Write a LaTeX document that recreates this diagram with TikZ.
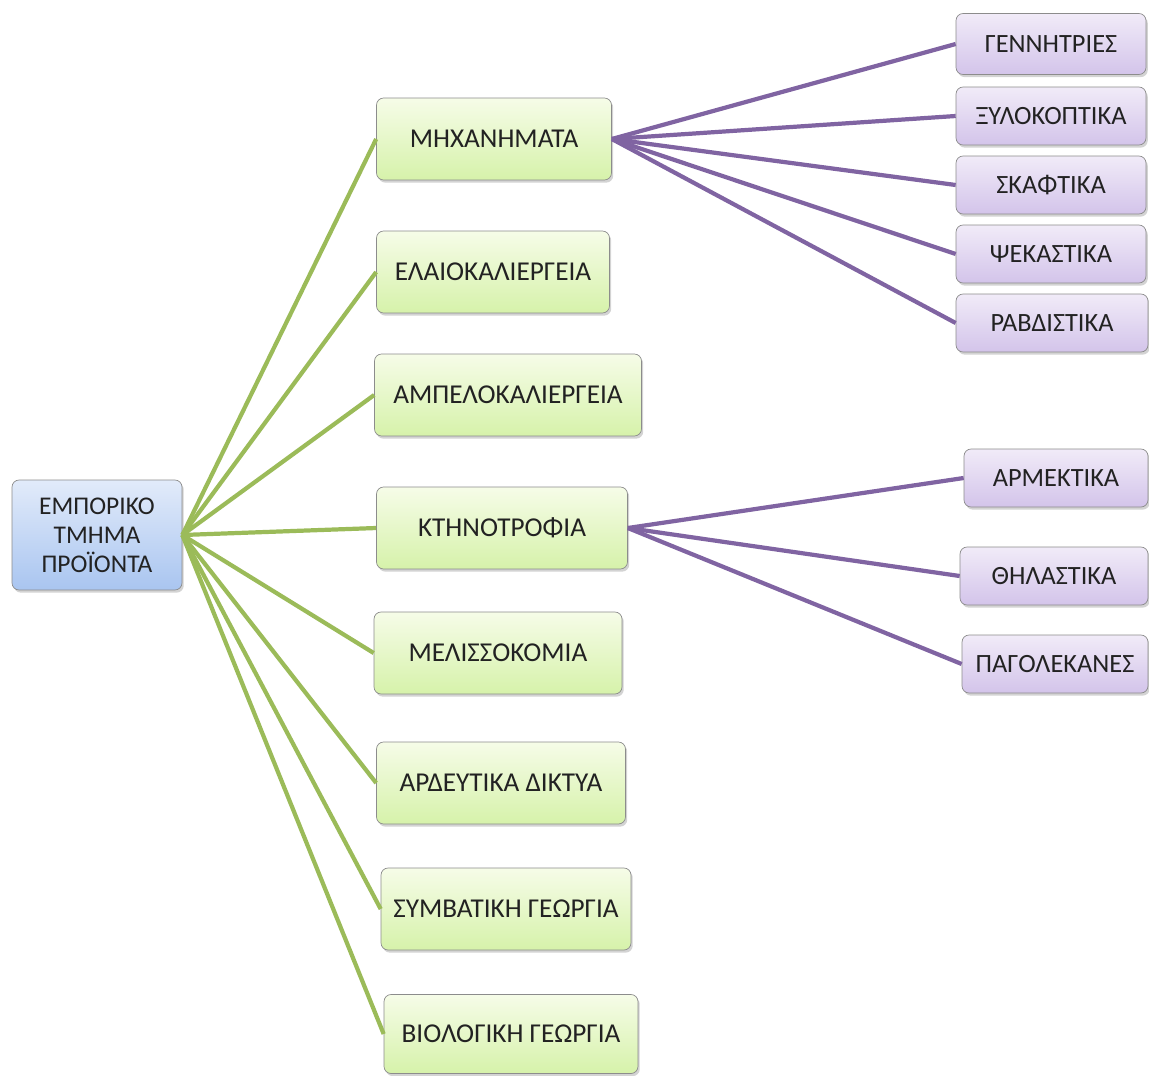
\documentclass[tikz,border=0pt]{standalone}
\usepackage{fontspec}
\setmainfont{Carlito}
\usetikzlibrary{shadows}
\definecolor{cRootTop}{HTML}{E2EBFA}
\definecolor{cRootBot}{HTML}{A9C5F0}
\definecolor{cCatTop}{HTML}{F6FCE8}
\definecolor{cCatBot}{HTML}{D6F2AA}
\definecolor{cSubTop}{HTML}{F1EBF8}
\definecolor{cSubBot}{HTML}{D3C4EA}
\definecolor{cEdge}{HTML}{8C8C8C}
\definecolor{cGreen}{HTML}{9BBB59}
\definecolor{cPurple}{HTML}{8064A2}
\definecolor{cInk}{HTML}{222222}

\begin{document}
\begin{tikzpicture}[x=0.02cm,y=-0.02cm,
  root/.style={draw=cEdge,rounded corners=4pt,top color=cRootTop,bottom color=cRootBot,align=center,minimum width=3.4cm,minimum height=2.2cm,text=cInk,font=\fontsize{14.5}{16.5}\selectfont,drop shadow={opacity=0.35,shadow xshift=1pt,shadow yshift=-1.5pt}},
  cat/.style={draw=cEdge,rounded corners=4pt,top color=cCatTop,bottom color=cCatBot,align=center,minimum height=1.64cm,text=cInk,font=\fontsize{15.5}{18}\selectfont,drop shadow={opacity=0.35,shadow xshift=1pt,shadow yshift=-1.5pt}},
  sub/.style={draw=cEdge,rounded corners=4pt,top color=cSubTop,bottom color=cSubBot,align=center,minimum height=1.16cm,text=cInk,font=\fontsize{15}{17}\selectfont,drop shadow={opacity=0.35,shadow xshift=1pt,shadow yshift=-1.5pt}},
  glink/.style={draw=cGreen,line width=2.4pt},
  plink/.style={draw=cPurple,line width=2.4pt}]
  \useasboundingbox (0,0) rectangle (1149,1075);
  % root
  \node[root] (emp) at (97,535) {ΕΜΠΟΡΙΚΟ\\ΤΜΗΜΑ\\ΠΡΟΪΟΝΤΑ};
  % categories
  \node[cat, minimum width=4.7cm] (mix) at (494,139) {ΜΗΧΑΝΗΜΑΤΑ};
  \node[cat, minimum width=4.66cm] (ela) at (493,272) {ΕΛΑΙΟΚΑΛΙΕΡΓΕΙΑ};
  \node[cat, minimum width=5.34cm] (amp) at (508,395) {ΑΜΠΕΛΟΚΑΛΙΕΡΓΕΙΑ};
  \node[cat, minimum width=5.02cm] (ktn) at (502,528) {ΚΤΗΝΟΤΡΟΦΙΑ};
  \node[cat, minimum width=4.96cm] (mel) at (498,653) {ΜΕΛΙΣΣΟΚΟΜΙΑ};
  \node[cat, minimum width=4.98cm] (ard) at (501,783) {ΑΡΔΕΥΤΙΚΑ ΔΙΚΤΥΑ};
  \node[cat, minimum width=5.0cm] (sym) at (506,909) {ΣΥΜΒΑΤΙΚΗ ΓΕΩΡΓΙΑ};
  \node[cat, minimum width=5.08cm, minimum height=1.58cm] (bio) at (511,1034) {ΒΙΟΛΟΓΙΚΗ ΓΕΩΡΓΙΑ};
  % machinery
  \node[sub, minimum width=3.8cm, minimum height=1.22cm] (gen) at (1051,44) {ΓΕΝΝΗΤΡΙΕΣ};
  \node[sub, minimum width=3.8cm] (xyl) at (1051,116) {ΞΥΛΟΚΟΠΤΙΚΑ};
  \node[sub, minimum width=3.8cm] (ska) at (1051,185) {ΣΚΑΦΤΙΚΑ};
  \node[sub, minimum width=3.8cm] (pse) at (1051,254) {ΨΕΚΑΣΤΙΚΑ};
  \node[sub, minimum width=3.84cm] (rav) at (1052,323) {ΡΑΒΔΙΣΤΙΚΑ};
  % livestock
  \node[sub, minimum width=3.68cm] (arm) at (1056,478) {ΑΡΜΕΚΤΙΚΑ};
  \node[sub, minimum width=3.76cm] (thi) at (1054,576) {ΘΗΛΑΣΤΙΚΑ};
  \node[sub, minimum width=3.72cm] (pag) at (1055,664) {ΠΑΓΟΛΕΚΑΝΕΣ};
  % links
  \foreach \c in {mix,ela,amp,ktn,mel,ard,sym,bio} \draw[glink] (emp.east) -- (\c.west);
  \foreach \s in {gen,xyl,ska,pse,rav} \draw[plink] (mix.east) -- (\s.west);
  \foreach \s in {arm,thi,pag} \draw[plink] (ktn.east) -- (\s.west);
\end{tikzpicture}
\end{document}
